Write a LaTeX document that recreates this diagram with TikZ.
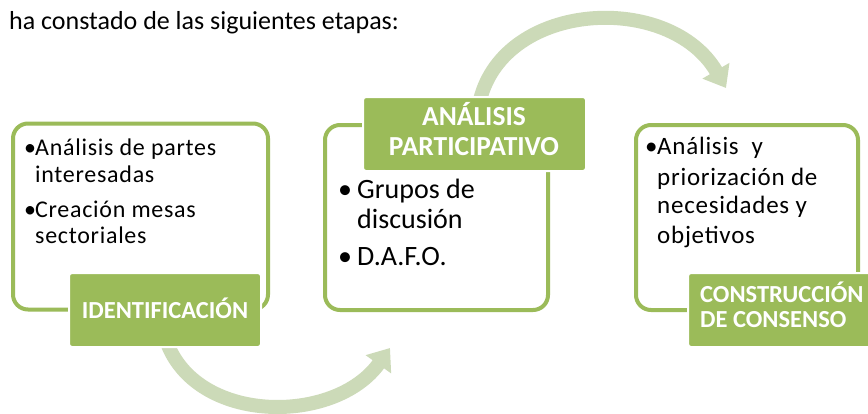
\documentclass[tikz,border=0pt]{standalone}
\usepackage{fontspec}
\setmainfont{Carlito}
\usetikzlibrary{arrows.meta}
\definecolor{gr}{HTML}{9BBB59}
\definecolor{lgr}{HTML}{CCDAB8}
\tikzset{
  outerbox/.style={draw=gr, line width=4pt, rounded corners=15pt, fill=white, inner sep=0pt},
  labelbox/.style={fill=gr, draw=white, line width=2pt, rounded corners=3pt, inner sep=0pt},
  labeltext/.style={anchor=base, inner sep=0pt, text=white, font=\bfseries\fontsize{24.5}{28}\selectfont},
  flow/.style={draw=lgr, line width=14pt, -{Triangle[width=30pt,length=20pt]}},
  bodyA/.style={anchor=base west, inner sep=0pt, font=\fontsize{24}{28}\selectfont\addfontfeature{LetterSpace=3}},
  bodyB/.style={anchor=base west, inner sep=0pt, font=\fontsize{28}{32}\selectfont},
  bodyC/.style={anchor=base west, inner sep=0pt, font=\fontsize{25}{29}\selectfont\addfontfeature{LetterSpace=3}},
  headtext/.style={anchor=base west, inner sep=0pt, font=\fontsize{26}{30}\selectfont},
}
\begin{document}
\begin{tikzpicture}[x=1pt,y=-1pt]
\clip (0,0) rectangle (868,413);
\fill[white] (0,0) rectangle (868,413);

\node[headtext] (head) at (9,29) {ha constado de las siguientes etapas:};

% connectors (behind boxes)
\coordinate (a1s) at (166,340);
\coordinate (a1e) at (390,348);
\coordinate (a2s) at (480,100);
\coordinate (a2e) at (726,88);
\path[flow] (a1s) .. controls (195,425) and (335,425) .. (a1e);
\path[flow] (a2s) .. controls (505,0) and (670,-8) .. (a2e);

% outer boxes
\node[outerbox, minimum width=255pt, minimum height=186pt] (b1) at (140.5,216.5) {};
\node[outerbox, minimum width=223pt, minimum height=185pt] (b2) at (436.5,217.5) {};
\node[outerbox, minimum width=222pt, minimum height=185pt] (b3) at (747,217.5) {};

% label boxes
\node[labelbox, minimum width=192pt, minimum height=74pt] (l1) at (165,310) {};
\node[labeltext] (l1a) at (165,318) {IDENTIFICACIÓN};
\node[labelbox, minimum width=223pt, minimum height=74pt] (l2) at (474.5,134) {};
\node[labeltext, font=\bfseries\fontsize{27.5}{30}\selectfont] (l2a) at (474,125) {ANÁLISIS};
\node[labeltext, font=\bfseries\fontsize{27.5}{30}\selectfont] (l2b) at (474,155) {PARTICIPATIVO};
\node[labelbox, minimum width=192pt, minimum height=74pt] (l3) at (784,310) {};
\node[labeltext, anchor=base west] (l3a) at (700,302) {CONSTRUCCIÓN};
\node[labeltext, anchor=base west] (l3b) at (700,327) {DE CONSENSO};

% box 1 text
\node[bodyA] (p1b) at (24,155) {•};
\node[bodyA] (p1a) at (35,155) {Análisis de partes};
\node[bodyA] (p1c) at (35,182) {interesadas};
\node[bodyA] (p1d) at (24,217) {•};
\node[bodyA] (p1e) at (35,217) {Creación mesas};
\node[bodyA] (p1f) at (35,243) {sectoriales};

% box 2 text
\node[bodyB] (p2b) at (338,198) {•};
\node[bodyB] (p2a) at (357,198) {Grupos de};
\node[bodyB] (p2c) at (357,228) {discusión};
\node[bodyB] (p2d) at (338,265) {•};
\node[bodyB] (p2e) at (357,265) {D.A.F.O.};

% box 3 text
\node[bodyC] (p3b) at (645,154) {•};
\node[bodyC] (p3a) at (657,154) {Análisis\ \ y};
\node[bodyC] (p3c) at (657,185) {priorización de};
\node[bodyC] (p3d) at (657,213) {necesidades y};
\node[bodyC] (p3e) at (657,243) {objetivos};
\end{tikzpicture}
\end{document}
